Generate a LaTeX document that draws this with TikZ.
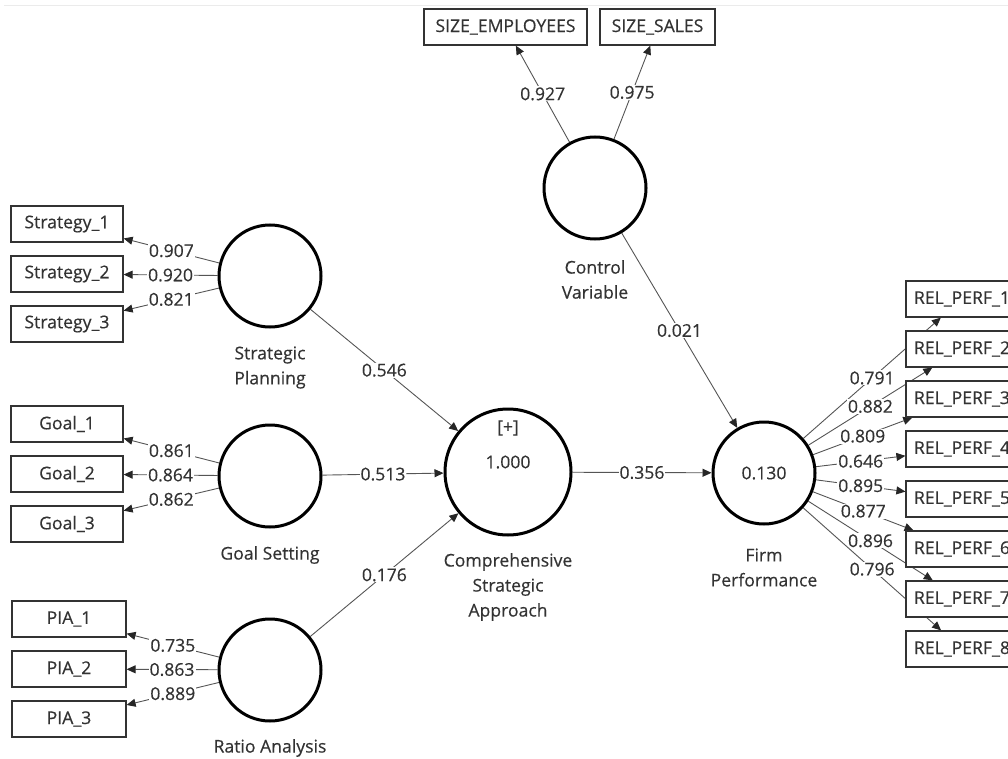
\documentclass[tikz,border=0pt]{standalone}
\usepackage{fontspec}
\setmainfont[FakeBold=0.35]{Open Sans}
\usetikzlibrary{arrows.meta}
\definecolor{txt}{HTML}{333333}
\definecolor{ln}{HTML}{555555}
\pgfdeclarelayer{bg}
\pgfsetlayers{bg,main}
\begin{document}
\begin{tikzpicture}[x=1pt,y=-1pt,
  font=\fontsize{17.6}{25}\selectfont,
  ind/.style={draw=black!80, line width=1.2pt, minimum height=36pt, inner sep=0pt, text=txt, fill=white},
  lv/.style={circle, draw=black, line width=3pt, minimum size=102pt, inner sep=0pt, text=txt},
  lvcaption/.style={text=txt, align=center, inner sep=0pt},
  arr/.style={draw=ln, line width=0.9pt, -{Triangle[length=9pt,width=8pt,color=black!85]}},
  wt/.style={fill=white, inner sep=1pt, text=txt, midway}]
\useasboundingbox (0,0) rectangle (1008,759);
\clip (0,0) rectangle (1008,759);
\draw[black!8, line width=1pt] (4,6) -- (1008,6);

% latent variables
\node[lv] (sp) at (270,276) {};
\node[lv] (gs) at (270,476) {};
\node[lv] (ra) at (270,670) {};
\node[lv, minimum size=126pt] (csa) at (508,472) {};
\node[lv] (fp) at (764,473) {0.130};
\node[lv] (cv) at (595,188) {};

\node[lvcaption] (csaplus) at (508,428) {[+]};
\node[lvcaption] (csar2) at (508,462) {1.000};

% captions
\node[lvcaption] (spcap) at (270,367.5) {Strategic\\Planning};
\node[lvcaption] (gscap) at (270,555) {Goal Setting};
\node[lvcaption] (racap) at (270,748) {Ratio Analysis};
\node[lvcaption] (csacap) at (508,587) {Comprehensive\\Strategic\\Approach};
\node[lvcaption] (fpcap) at (764,567.5) {Firm\\Performance};
\node[lvcaption] (cvcap) at (595,279.5) {Control\\Variable};

% indicators
\node[ind, minimum width=112pt] (s1) at (67,224) {Strategy\_1};
\node[ind, minimum width=112pt] (s2) at (67,274) {Strategy\_2};
\node[ind, minimum width=112pt] (s3) at (67,324) {Strategy\_3};
\node[ind, minimum width=112pt] (g1) at (67,424) {Goal\_1};
\node[ind, minimum width=112pt] (g2) at (67,474) {Goal\_2};
\node[ind, minimum width=112pt] (g3) at (67,524) {Goal\_3};
\node[ind, minimum width=114pt] (p1) at (69,619) {PIA\_1};
\node[ind, minimum width=114pt] (p2) at (69,669) {PIA\_2};
\node[ind, minimum width=114pt] (p3) at (69,719) {PIA\_3};
\node[ind, minimum width=163pt] (e1) at (505.5,27) {SIZE\_EMPLOYEES};
\node[ind, minimum width=115pt] (e2) at (657.5,27) {SIZE\_SALES};
\foreach \i in {1,...,8}{
  \node[ind, minimum width=112pt] (r\i) at (962,{249+50*\i}) {REL\_PERF\_\i};
}

\begin{pgfonlayer}{bg}
\draw[arr] (sp) -- node[wt]{0.907} (s1);
\draw[arr] (sp) -- node[wt]{0.920} (s2);
\draw[arr] (sp) -- node[wt]{0.821} (s3);
\draw[arr] (gs) -- node[wt]{0.861} (g1);
\draw[arr] (gs) -- node[wt]{0.864} (g2);
\draw[arr] (gs) -- node[wt]{0.862} (g3);
\draw[arr] (ra) -- node[wt]{0.735} (p1);
\draw[arr] (ra) -- node[wt]{0.863} (p2);
\draw[arr] (ra) -- node[wt]{0.889} (p3);
\draw[arr] (cv) -- node[wt]{0.927} (e1);
\draw[arr] (cv) -- node[wt]{0.975} (e2);
\draw[arr] (sp) -- node[wt]{0.546} (csa);
\draw[arr] (gs) -- node[wt]{0.513} (csa);
\draw[arr] (ra) -- node[wt]{0.176} (csa);
\draw[arr] (csa) -- node[wt]{0.356} (fp);
\draw[arr] (cv) -- node[wt]{0.021} (fp);
\draw[arr] (fp) -- node[wt]{0.791} (r1);
\draw[arr] (fp) -- node[wt]{0.882} (r2);
\draw[arr] (fp) -- node[wt]{0.809} (r3);
\draw[arr] (fp) -- node[wt]{0.646} (r4);
\draw[arr] (fp) -- node[wt]{0.895} (r5);
\draw[arr] (fp) -- node[wt]{0.877} (r6);
\draw[arr] (fp) -- node[wt]{0.896} (r7);
\draw[arr] (fp) -- node[wt]{0.796} (r8);
\end{pgfonlayer}
\end{tikzpicture}
\end{document}
